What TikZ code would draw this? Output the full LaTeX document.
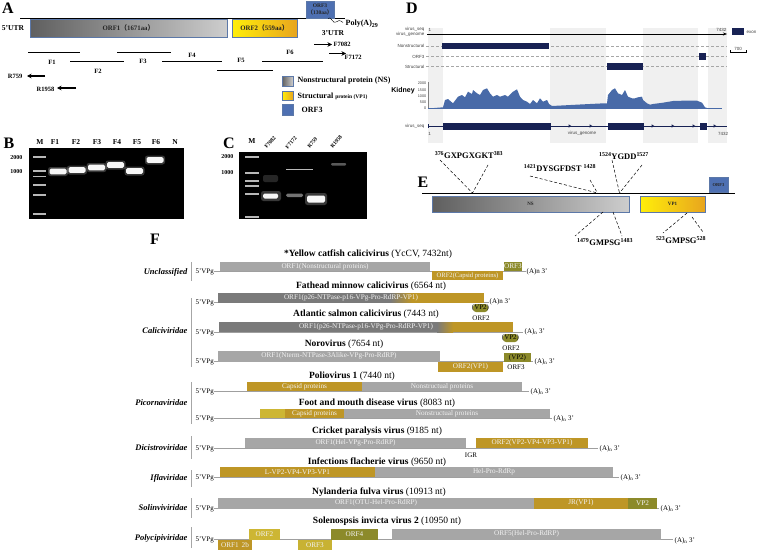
\documentclass[tikz,border=0pt]{standalone}
\usepackage{fontspec}
\setmainfont{Liberation Serif}
\newfontfamily\dsans{Liberation Sans}
\newfontfamily\cjk{Noto Sans CJK SC}
\usetikzlibrary{arrows.meta}

\definecolor{gold}{RGB}{190,150,38}
\definecolor{lgold}{RGB}{205,182,52}
\definecolor{olive}{RGB}{140,138,42}
\definecolor{barg}{RGB}{166,166,166}
\definecolor{darkg}{RGB}{122,122,122}
\definecolor{navy}{RGB}{24,34,84}
\definecolor{cov}{RGB}{72,106,168}
\definecolor{orfblue}{RGB}{78,112,178}
\definecolor{bordblue}{RGB}{92,120,168}
\definecolor{nsdark}{RGB}{95,95,95}
\definecolor{nslight}{RGB}{205,205,205}
\definecolor{vpy}{RGB}{255,238,10}
\definecolor{vpo}{RGB}{232,165,30}

\begin{document}
\begin{tikzpicture}[x=1pt,y=-1pt,
  panel/.style={font=\fontsize{16}{16}\bfseries\selectfont, inner sep=0pt},
  bord/.style={draw=bordblue, line width=0.8pt},
  orftxt/.style={font=\fontsize{6.8}{7.5}\bfseries\selectfont, text=black!85, inner sep=0pt},
  frag/.style={font=\fontsize{6.5}{7}\bfseries\selectfont, inner sep=0.5pt},
  lane/.style={font=\fontsize{7.5}{8}\bfseries\selectfont, inner sep=0.5pt},
  size/.style={font=\fontsize{6}{7}\bfseries\selectfont, inner sep=0.5pt},
  glow/.style={fill=white, opacity=0.22, rounded corners=2.5pt},
  band/.style={fill=white!94!gray, rounded corners=1.5pt},
  mk/.style={fill=white!72!black},
  dlab/.style={font=\dsans\fontsize{4.5}{5}\selectfont, text=black!75, inner sep=0.5pt},
  motif/.style={font=\fontsize{8.5}{9}\bfseries\selectfont, inner sep=0.5pt},
  ttl/.style={font=\fontsize{9.5}{10}\selectfont, inner sep=0.5pt},
  fam/.style={anchor=east, font=\fontsize{8.5}{9}\bfseries\itshape\selectfont, inner sep=0.5pt},
  vpg/.style={anchor=east, font=\fontsize{7}{7.5}\selectfont, inner sep=0.5pt},
  polya/.style={anchor=west, font=\fontsize{7}{7.5}\selectfont, inner sep=0.5pt},
  bartxt/.style={text=white!90!gray, font=\fontsize{7.2}{7.5}\selectfont, inner sep=0pt},
  gline/.style={draw=gray!75, line width=0.6pt}]
\useasboundingbox (0,0) rectangle (760,551);

% ---------------- A
\node[panel] (lA) at (8,8) {A};
\draw[line width=1pt] (20,19) -- (345,19);
\draw[bord, left color=nsdark, right color=nslight] (30,19.5) rectangle node[orftxt] (orf1) {ORF1{\cjk （}1671aa{\cjk ）}} (227,37);
\draw[bord, left color=vpy, right color=vpo] (232,19.5) rectangle node[orftxt] (orf2) {ORF2{\cjk （}559aa{\cjk ）}} (297,37);
\draw[bord, fill=orfblue] (306,1) rectangle (334,18);
\node[orftxt, align=center, font=\fontsize{5.5}{6.5}\bfseries\selectfont] (orf3) at (320,9.5) {ORF3\\{\cjk （}130aa{\cjk ）}};
\draw (328,18.5) .. controls (331,15) and (333,25) .. (336,22) .. controls (338,20) and (340,20) .. (343,22.5);
\node[anchor=west, font=\fontsize{8}{9}\bfseries\selectfont, inner sep=0.5pt] (polyA) at (345,24) {Poly(A)\textsubscript{29}};
\node[font=\fontsize{7.5}{8}\bfseries\selectfont] (utr5) at (13,28) {5'UTR};
\node[font=\fontsize{7.5}{8}\bfseries\selectfont] (utr3) at (333,33) {3'UTR};

\foreach \a/\b/\y/\n/\lx/\ly in {28/80/52.5/F1/52/62, 70/124/61/F2/98/71, 117/171/52.5/F3/143/61,
    162/222/61.5/F4/192/55, 217/273/70/F5/241/60, 262/323/61/F6/290/52}
  {\draw[line width=0.9pt] (\a,\y) -- (\b,\y);
   \node[frag] at (\lx,\ly) {\n};}

\draw[-{Stealth[length=4.5pt,width=4.5pt]}, line width=1.3pt] (314,44.5) -- (332,44.5);
\node[frag, anchor=west] (f7082) at (333,44.5) {F7082};
\draw[-{Stealth[length=4.5pt,width=4.5pt]}, line width=1.3pt] (329,53.5) -- (346,53.5);
\node[frag, anchor=west] (f7172) at (344,57) {F7172};
\draw[-{Stealth[length=4.5pt,width=4.5pt]}, line width=1.3pt] (45,76) -- (27,76);
\node[frag, anchor=east] (r759) at (23,76.5) {R759};
\draw[-{Stealth[length=4.5pt,width=4.5pt]}, line width=1.3pt] (76,88) -- (57,88);
\node[frag, anchor=east] (r1958) at (55,89) {R1958};

% legend
\draw[bord, left color=nsdark, right color=nslight] (282,76) rectangle (293,86);
\draw[bord, left color=vpy, right color=vpo] (282,91) rectangle (293,100.5);
\draw[bord, fill=orfblue] (282,104.5) rectangle (293,115);
\begin{scope}
  \clip (280,70) rectangle (389.5,120);
  \node[anchor=west, font=\fontsize{8}{9}\bfseries\selectfont, inner sep=0.5pt] (lgns) at (297,81) {Nonstructural protein (NS)};
\end{scope}
\node[anchor=west, font=\fontsize{8}{9}\bfseries\selectfont, inner sep=0.5pt] (lgvp) at (297,96) {Structural {\fontsize{5.5}{6}\selectfont protein (VP1)}};
\node[anchor=west, font=\fontsize{8}{9}\bfseries\selectfont, inner sep=0.5pt] (lgo3) at (301,110) {ORF3};

% ---------------- B
\node[panel] (lB) at (9,143) {B};
\fill[black] (29,148) rectangle (184,218.5);
\foreach \x/\l in {40/M, 55/F1, 76/F2, 97/F3, 117/F4, 137/F5, 156/F6, 175/N}
  \node[lane] at (\x,142) {\l};
\node[size, anchor=east] at (23,158) {2000};
\node[size, anchor=east] at (23,172) {1000};
\foreach \y in {157,171,176.5,185,195,214}
  \fill[mk] (33,\y-0.9) rectangle (46,\y+0.9);
\foreach \x/\y in {58/171.5, 77/170, 96.5/167.5, 115.5/165, 134.5/171, 155/160}
  {\fill[glow] (\x-10,\y-4.5) rectangle (\x+10,\y+4.5);
   \fill[band] (\x-8.5,\y-2.8) rectangle (\x+8.5,\y+2.8);}

% ---------------- C
\node[panel] (lC) at (229,143) {C};
\fill[black] (239,152) rectangle (367,219);
\node[lane] (cm) at (252,141) {M};
\foreach \x/\l in {267/F7082, 288/F7172, 310/R759, 333/R1958}
  \node[size, font=\fontsize{5.5}{6}\bfseries\selectfont, rotate=50, anchor=south west] at (\x,150) {\l};
\node[size, anchor=east] at (234,157) {2000};
\node[size, anchor=east] at (234,173) {1000};
\foreach \y in {157,173,181,186,194,217}
  \fill[mk] (245,\y-0.9) rectangle (259,\y+0.9);
\fill[white, opacity=0.15, rounded corners=2pt] (263,175) rectangle (278,182);
\fill[glow] (261,191) rectangle (281,201);
\fill[band] (263,193.5) rectangle (278,198.5);
\fill[white, opacity=0.45, rounded corners=1.5pt] (286,193.5) rectangle (303,197);
\fill[glow] (305,193) rectangle (327,205);
\fill[band] (307,195.5) rectangle (325,202.5);
\fill[white, opacity=0.35, rounded corners=1pt] (331,163) rectangle (346,165.5);
\draw[gray!55, line width=0.6pt] (286,169) -- (313,169);

% ---------------- D
\node[panel] (lD) at (412,8) {D};
\foreach \a/\b in {428/443, 550/606, 643/698, 708/727}
  \fill[black!6] (\a,28) rectangle (\b,143);
\node[dlab, anchor=east] at (425,29.5) {virus\_seq};
\node[dlab, anchor=east] at (425,34) {virus\_genome};
\node[dlab, anchor=west] at (428,29.5) {1};
\node[dlab, anchor=east] at (727,29.5) {7432};
\draw[-{Stealth[length=4pt,width=3pt]}, line width=0.5pt] (427,34) -- (727,34);
\fill[navy] (732,28.5) rectangle (744,35);
\node[dlab, anchor=west] at (746,32) {exon};
\foreach \y/\l in {46/Nonstructural, 56.5/ORF3, 66.5/Structural}
  {\node[dlab, anchor=east] at (425,\y) {\l};
   \draw[densely dashed, gray!70, line width=0.4pt] (426,\y) -- (727,\y);}
\fill[navy] (442,43) rectangle (549,49.5);
\fill[navy] (699,53) rectangle (706,60);
\fill[navy] (607,63) rectangle (643,70);
\draw[line width=0.5pt] (730,52) -- (746,52) (730,50.5) -- (730,53.5) (746,50.5) -- (746,53.5);
\node[dlab] at (738,48.5) {700};
\node[font=\dsans\fontsize{7}{8}\bfseries\selectfont, inner sep=0.5pt] (kid) at (403,91) {Kidney};
\foreach \y/\l in {83/2000, 90/1500, 96.5/1000, 102.5/500, 108.3/0}
  \node[dlab, anchor=east, font=\dsans\fontsize{3.8}{4}\selectfont] at (427,\y) {\l};
\draw[gray, line width=0.3pt] (428,82) -- (428,108.5);
\fill[cov] (428,108.5) -- (443,107.3) -- (445,100) -- (448,99) -- (453,103.3) -- (458,96.7) -- (462,95)
  -- (465,97.3) -- (468,91.7) -- (472,94) -- (473,90) -- (477,93.3) -- (480,95) -- (483,90) -- (487,88.3)
  -- (490,93.3) -- (493,96.7) -- (497,95) -- (500,96.7) -- (505,95) -- (508,96.7) -- (513,91.7)
  -- (517,89.3) -- (520,96.7) -- (523,100) -- (527,101.7) -- (530,104) -- (533,100) -- (537,103.3)
  -- (540,98.3) -- (543,101.7) -- (547,100) -- (549,104) -- (552,106) -- (580,104.5) -- (600,103.5)
  -- (607,103.3) -- (608,95) -- (612,90) -- (615,88.3) -- (618,93.3) -- (622,95) -- (625,90)
  -- (628,96.7) -- (632,98.3) -- (635,98.3) -- (638,97.3) -- (642,96.7) -- (643,100) -- (647,103.3)
  -- (650,104.7) -- (653,104) -- (663,102.7) -- (673,101) -- (683,100.7) -- (697,100.7) -- (702,102.7)
  -- (705,107.3) -- (708,108.3) -- (718,108.5) -- cycle;
\draw[cov, line width=0.4pt] (428,108.5) -- (722,108.5);
\node[dlab, anchor=east] at (425,126) {virus\_seq};
\draw[navy, line width=0.6pt] (428,126) -- (727,126) (428,124) -- (428,128);
\fill[navy] (443,123) rectangle (551,130);
\fill[navy] (608,123) rectangle (644,130);
\fill[navy] (700,123) rectangle (707,130);
\foreach \x in {570,591,653,673,694,715}
  \fill[navy] (\x-1.3,124.4) -- (\x+1.3,126) -- (\x-1.3,127.6) -- cycle;
\node[dlab] at (429.5,133.5) {1};
\node[dlab] at (582,133.5) {virus\_genome};
\node[dlab] at (723,133.5) {7432};

% ---------------- E
\node[panel] (lE) at (423,182) {E};
\draw[line width=0.9pt] (422,193) -- (735,193);
\draw[bord, left color=nsdark, right color=nslight] (432,196) rectangle node[orftxt, font=\fontsize{5}{6}\bfseries\selectfont] (ns) {NS} (629,212);
\draw[bord, left color=vpy, right color=vpo] (640,196) rectangle node[orftxt, font=\fontsize{5}{6}\bfseries\selectfont] (vp1) {VP1} (705,212);
\draw[bord, fill=orfblue] (709,177) rectangle node[orftxt, font=\fontsize{4.5}{5}\bfseries\selectfont] (orf3e) {ORF3} (728,192.5);
\node[motif] (m1) at (469,155) {\textsuperscript{376}GXPGXGKT\textsuperscript{383}};
\node[motif] (m2) at (560,168) {\textsuperscript{1421}DYSGFDST \textsuperscript{1428}};
\node[motif] (m3) at (624,156) {\textsuperscript{1524}YGDD\textsuperscript{1527}};
\node[motif] (m4) at (605,242) {\textsuperscript{1479}GMPSG\textsuperscript{1483}};
\node[motif] (m5) at (681,240) {\textsuperscript{523}GMPSG\textsuperscript{528}};
\coordinate (s1) at (472.5,193);
\coordinate (s2) at (597.5,193);
\coordinate (s3) at (619.5,193);
\coordinate (s4a) at (603,212);
\coordinate (s4b) at (613,212);
\coordinate (s5a) at (687,213);
\coordinate (s5b) at (692,217);
\draw[densely dashed, line width=0.5pt] (440,160) -- (s1) (488,165) -- (s1)
  (530,176) -- (s2) (590,180) -- (s2)
  (612,160) -- (s3) (642,165) -- (s3)
  (s4a) -- (575,236) (s4b) -- (622,236)
  (s5a) -- (663,233) (s5b) -- (703,232);

% ---------------- F
\node[panel] (lF) at (155,239) {F};
\foreach \y/\a/\b/\n in {272/262/281/Unclassified, 331/298/367/Caliciviridae, 403/382/424/Picornaviridae,
    448/436/459/Dicistroviridae, 478/470/487/Iflaviridae, 508/498/518/Solinviviridae, 538/527/548/Polycipiviridae}
  {\node[fam] at (188,\y) {\n};
   \draw[gray!70, line width=0.8pt] (191.5,\a) -- (191.5,\b);}
\foreach \y/\e in {271/526, 302.5/489, 332/523, 361.5/533, 391/529, 418/552, 448/598, 477/619, 508.5/659, 539.5/673}
  {\node[vpg] at (214.5,\y+0.5) {5'VPg};
   \draw[gline] (214,\y) -- (\e,\y);}

% YcCV
\node[ttl] (t1) at (368,254) {\textbf{*Yellow catfish calicivirus} (YcCV, 7432nt)};
\fill[barg] (220,262) rectangle node[bartxt] {ORF1(Nonstructural proteins)} (430,271);
\fill[gold] (432,271) rectangle node[bartxt, font=\fontsize{6.6}{7}\selectfont] {ORF2(Capsid proteins)} (503,280);
\fill[olive] (504,262) rectangle node[bartxt] {ORF3} (522,271);
\node[polya] at (526,272) {(A)n 3'};

% FMCV
\node[ttl] (t2) at (371,286.5) {\textbf{Fathead minnow calicivirus} (6564 nt)};
\fill[darkg] (218,293) rectangle (390,302.5);
\shade[left color=darkg, right color=gold] (390,293) rectangle (412,302.5);
\fill[gold] (412,293) rectangle (484,302.5);
\node[bartxt] at (351,298) {ORF1(p26-NTPase-p16-VPg-Pro-RdRP-VP1)};
\node[polya] at (489,302) {(A)n 3'};
\fill[olive, rounded corners=3pt] (473,304) rectangle (488,312);
\node[polya, anchor=center] (vp2a) at (480.5,308) {(VP2)};
\node[polya, anchor=center] at (481,318) {ORF2};

% ASCV
\node[ttl] (t3) at (366,314.5) {\textbf{Atlantic salmon calicivirus} (7443 nt)};
\fill[darkg] (219,322) rectangle (437,332);
\shade[left color=darkg, right color=gold] (437,322) rectangle (453,332);
\fill[gold] (453,322) rectangle (513,332);
\node[bartxt] at (366,327) {ORF1(p26-NTPase-p16-VPg-Pro-RdRP-VP1)};
\node[polya] at (524,331.5) {(A)\textsubscript{n} 3'};
\fill[olive, rounded corners=3pt] (503,334) rectangle (518,342);
\node[polya, anchor=center] (vp2b) at (510.5,338) {(VP2)};
\node[polya, anchor=center] at (511,348) {ORF2};

% Norovirus
\node[ttl] (t4) at (344,344) {\textbf{Norovirus} (7654 nt)};
\fill[barg] (218,351) rectangle node[bartxt] {ORF1(Nterm-NTPase-3Alike-VPg-Pro-RdRP)} (440,361.5);
\fill[gold] (438,361.5) rectangle node[bartxt] {ORF2(VP1)} (503,372);
\fill[olive] (504,353) rectangle (531,361.5);
\node[polya, anchor=center] (vp2c) at (517.5,357.5) {(VP2)};
\node[polya, anchor=center] at (516,367.5) {ORF3};
\node[polya] at (534,362) {(A)\textsubscript{n} 3'};

% Poliovirus
\node[ttl] (t5) at (352,376) {\textbf{Poliovirus 1} (7440 nt)};
\fill[gold] (247,382) rectangle node[bartxt] {Capsid proteins} (362,391);
\fill[barg] (362,382) rectangle node[bartxt] {Nonstructual proteins} (522,391);
\node[polya] at (530,391.5) {(A)\textsubscript{n} 3'};

% FMDV
\node[ttl] (t6) at (377,403) {\textbf{Foot and mouth disease virus} (8083 nt)};
\fill[lgold] (260,409) rectangle (285,418);
\fill[gold] (285,409) rectangle node[bartxt] {Capsid proteins} (344,418);
\fill[barg] (344,409) rectangle node[bartxt] {Nonstructual proteins} (550,418);
\node[polya] at (553,419) {(A)\textsubscript{n} 3'};

% CrPV
\node[ttl] (t7) at (377,431) {\textbf{Cricket paralysis virus} (9185 nt)};
\fill[barg] (245,438) rectangle node[bartxt] {ORF1(Hel-VPg-Pro-RdRP)} (466,448);
\fill[gold] (476,438) rectangle node[bartxt] {ORF2(VP2-VP4-VP3-VP1)} (588,448);
\node[polya, anchor=center] (igr) at (471,455) {IGR};
\node[polya] at (599,448.5) {(A)\textsubscript{n} 3'};

% IFV
\node[ttl] (t8) at (377,462) {\textbf{Infections flacherie virus} (9650 nt)};
\fill[gold] (220,467) rectangle node[bartxt] {L-VP2-VP4-VP3-VP1} (375,477);
\fill[barg] (375,467) rectangle node[bartxt] {Hel-Pro-RdRp} (613,477);
\node[polya] at (620,478) {(A)\textsubscript{n} 3'};

% NFV
\node[ttl] (t9) at (379,492.5) {\textbf{Nylanderia fulva virus} (10913 nt)};
\fill[barg] (218,498) rectangle node[bartxt] {ORF1(OTU-Hel-Pro-RdRP)} (534,508.5);
\fill[gold] (534,498) rectangle node[bartxt] {JR(VP1)} (628,508.5);
\fill[olive] (628,498) rectangle node[bartxt] {VP2} (657,508.5);
\node[polya] at (660,509) {(A)\textsubscript{n} 3'};

% SINV-2
\node[ttl] (t10) at (387,521) {\textbf{Solenospsis invicta virus 2} (10950 nt)};
\fill[gold] (218,539.5) rectangle (252,550);
\node[bartxt] at (235,545) {ORF1\hspace{3pt}2b};
\fill[lgold] (249,529) rectangle node[bartxt] {ORF2} (280,539.5);
\fill[lgold!92!olive] (298,539.5) rectangle node[bartxt] {ORF3} (332,550);
\fill[olive] (331,529) rectangle node[bartxt] {ORF4} (378,539.5);
\fill[barg] (392,529) rectangle node[bartxt] {ORF5(Hel-Pro-RdRP)} (661,539.5);
\node[polya] at (674,541) {(A)\textsubscript{n} 3'};
\end{tikzpicture}
\end{document}
